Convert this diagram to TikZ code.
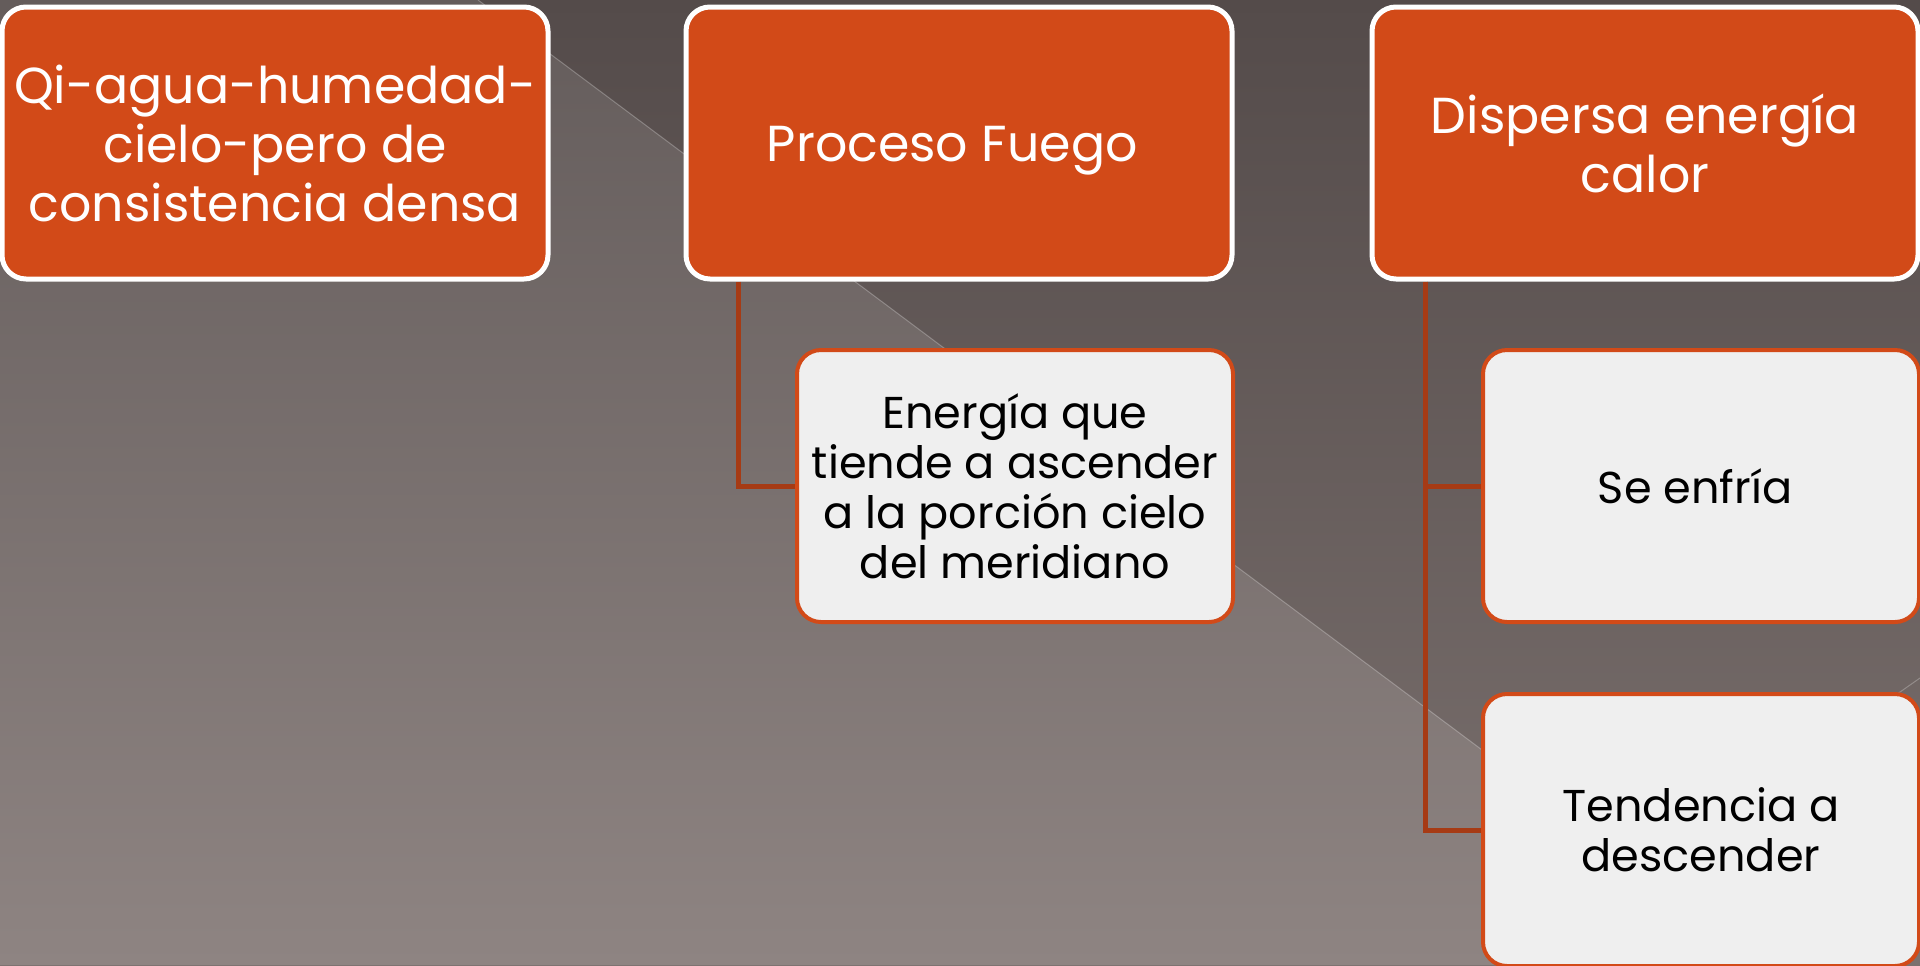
\documentclass[tikz,border=0pt]{standalone}
\usepackage{fontspec}
\setmainfont{Poppins}
\usetikzlibrary{positioning}

\definecolor{naranja}{HTML}{D24A18}
\definecolor{linea}{HTML}{A63B15}
\definecolor{hoja}{HTML}{EFEFEF}
\definecolor{fondoA}{HTML}{544B4A}
\definecolor{fondoB}{HTML}{7B716F}
\definecolor{fondoC}{HTML}{645C5B}
\definecolor{fondoD}{HTML}{8E8482}

\begin{document}
\begin{tikzpicture}[x=0.5pt, y=-0.5pt,
    topbox/.style={rectangle, rounded corners=12pt, draw=white, line width=2.5pt, fill=naranja, text=white, minimum width=273pt, minimum height=136pt, inner sep=0pt, align=center, font=\fontsize{25.3}{29.5}\selectfont},
    subbox/.style={rectangle, rounded corners=12pt, draw=naranja, line width=2pt, fill=hoja, text=black, minimum width=218pt, minimum height=136pt, inner sep=0pt, align=center, font=\fontsize{22.3}{25}\selectfont},
    conn/.style={draw=linea, line width=2.5pt},
]

% Background
\useasboundingbox (0,0) rectangle (1920,965);
\shade[top color=fondoA, bottom color=fondoB] (0,0) rectangle (1920,965);
\shade[top color=fondoC, bottom color=fondoD] (0,0) -- (478,0) -- (1770,965) -- (0,965) -- cycle;
\draw[white, opacity=0.25, line width=0.5pt] (478,0) -- (1770,965);
\draw[white, opacity=0.25, line width=0.5pt] (1920,678) -- (1510,965);

% Row 1 - Top boxes
\node[topbox] (qi) at (275,143) {
    Qi-agua-humedad-\\
    cielo-pero de\\
    consistencia densa
};

\node[topbox, text height=24pt, text depth=6pt] (fuego) at (959,143) {
    Proceso Fuego
};

\node[topbox] (calor) at (1645,143) {
    Dispersa energía\\
    calor
};

% Row 2 - Sub boxes
\node[subbox] (ascender) at (1015,486) {
    Energía que\\
    tiende a ascender\\
    a la porción cielo\\
    del meridiano
};

\node[subbox] (enfria) at (1701,486) {
    Se enfría
};

\node[subbox, below=34pt of enfria] (descender) {
    Tendencia a\\
    descender
};

% Connectors
\draw[conn] ([xshift=27.5pt]fuego.south west) |- (ascender.west);
\draw[conn] ([xshift=28pt]calor.south west) |- (enfria.west);
\draw[conn] ([xshift=28pt]calor.south west) |- (descender.west);

\end{tikzpicture}
\end{document}
